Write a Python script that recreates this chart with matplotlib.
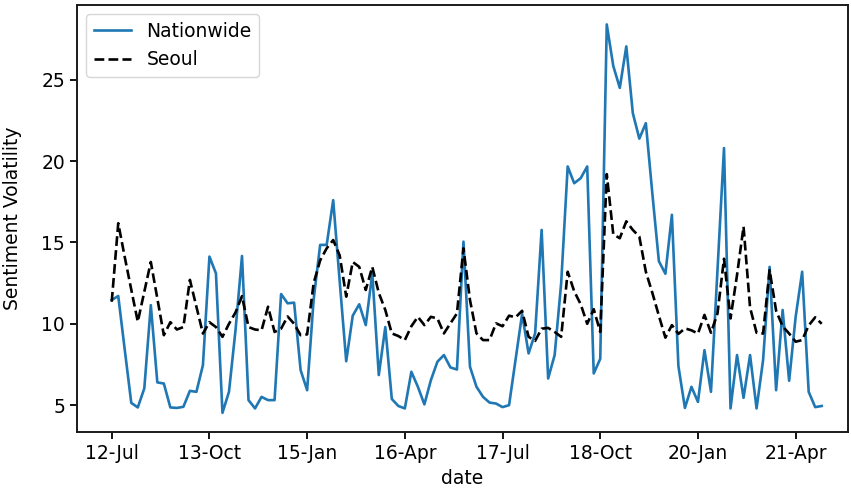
import matplotlib
matplotlib.use("Agg")
import matplotlib.pyplot as plt
import numpy as np

tick_labels = ["12-Jul", "13-Oct", "15-Jan", "16-Apr", "17-Jul", "18-Oct", "20-Jan", "21-Apr"]

nationwide = [
    11.46, 11.71, 8.4, 5.14, 4.86, 6.03, 11.15, 6.4, 6.33, 4.86,
    4.83, 4.9, 5.88, 5.82, 7.46, 14.13, 13.1, 4.53, 5.82, 9.6,
    14.17, 5.31, 4.8, 5.51, 5.31, 5.31, 11.83, 11.26, 11.3, 7.15,
    5.92, 11.5, 14.85, 14.85, 17.6, 12.6, 7.7, 10.5, 11.2, 9.92,
    13.1, 6.85, 9.8, 5.38, 4.95, 4.8, 7.05, 6.13, 5.05, 6.54,
    7.67, 8.08, 7.32, 7.19, 15.05, 7.36, 6.13, 5.51, 5.16, 5.1,
    4.88, 5.0, 7.8, 10.6, 8.18, 9.41, 15.77, 6.64, 8.08, 12.5,
    19.67, 18.64, 18.95, 19.67, 6.95, 7.85, 28.4, 25.85, 24.5, 27.05,
    22.95, 21.38, 22.33, 18.0, 13.85, 13.08, 16.7, 7.4, 4.83, 6.13,
    5.2, 8.38, 5.82, 13.3, 20.8, 4.8, 8.08, 5.45, 8.08, 4.8,
    7.77, 13.5, 5.92, 10.85, 6.5, 10.43, 13.2, 5.82, 4.88, 4.95,
]

seoul = [
    11.36, 16.18, 14.1, 12.1, 10.13, 11.97, 13.8, 11.56, 9.3, 10.1,
    9.65, 9.8, 12.7, 11.05, 9.4, 10.1, 9.8, 9.2, 10.0, 10.7,
    11.7, 9.8, 9.65, 9.6, 11.05, 9.5, 9.7, 10.45, 10.0, 9.3,
    9.35, 12.5, 13.9, 14.64, 15.15, 14.2, 11.67, 13.8, 13.5, 12.08,
    13.5, 11.9, 10.85, 9.41, 9.25, 9.0, 9.85, 10.43, 9.92, 10.43,
    10.33, 9.41, 10.03, 10.64, 14.64, 11.46, 9.41, 9.0, 9.0, 10.03,
    9.85, 10.5, 10.4, 10.8, 9.2, 8.95, 9.7, 9.75, 9.5, 9.2,
    13.2, 12.0, 11.2, 10.0, 10.9, 9.5, 19.2, 15.5, 15.26, 16.3,
    15.77, 15.36, 13.2, 11.9, 10.5, 9.15, 9.92, 9.38, 9.72, 9.6,
    9.4, 10.55, 9.45, 10.64, 14.0, 10.33, 13.0, 15.97, 11.0, 9.45,
    9.4, 13.3, 10.8, 9.85, 9.4, 8.9, 9.0, 9.9, 10.4, 10.0,
]

x = np.arange(len(nationwide))
tick_pos = x[::15][:len(tick_labels)]

fig = plt.figure(figsize=(8.51, 4.90), dpi=100)
ax = fig.add_axes([0.0905, 0.118, 0.906, 0.872])

ax.plot(x, nationwide, color="#1f77b4", lw=1.9, label="Nationwide")
ax.plot(x, seoul, color="black", lw=1.9, ls="--", label="Seoul")

ax.set_xlim(-5.33, 113.04)
ax.set_ylim(3.34, 29.6)
ax.set_xticks(tick_pos)
ax.set_xticklabels(tick_labels)
ax.set_yticks([5, 10, 15, 20, 25])
ax.tick_params(labelsize=13.5, length=5, width=1.3)
for s in ax.spines.values():
    s.set_linewidth(1.4)
    s.set_color("#1a1a1a")

ax.set_xlabel("date", fontsize=13.5, labelpad=4)
ax.set_ylabel("Sentiment Volatility", fontsize=13.5)
ax.yaxis.set_label_coords(-0.072, 0.5)
ax.legend(loc="upper left", fontsize=13.5)

fig.savefig("out.png", dpi=100)
